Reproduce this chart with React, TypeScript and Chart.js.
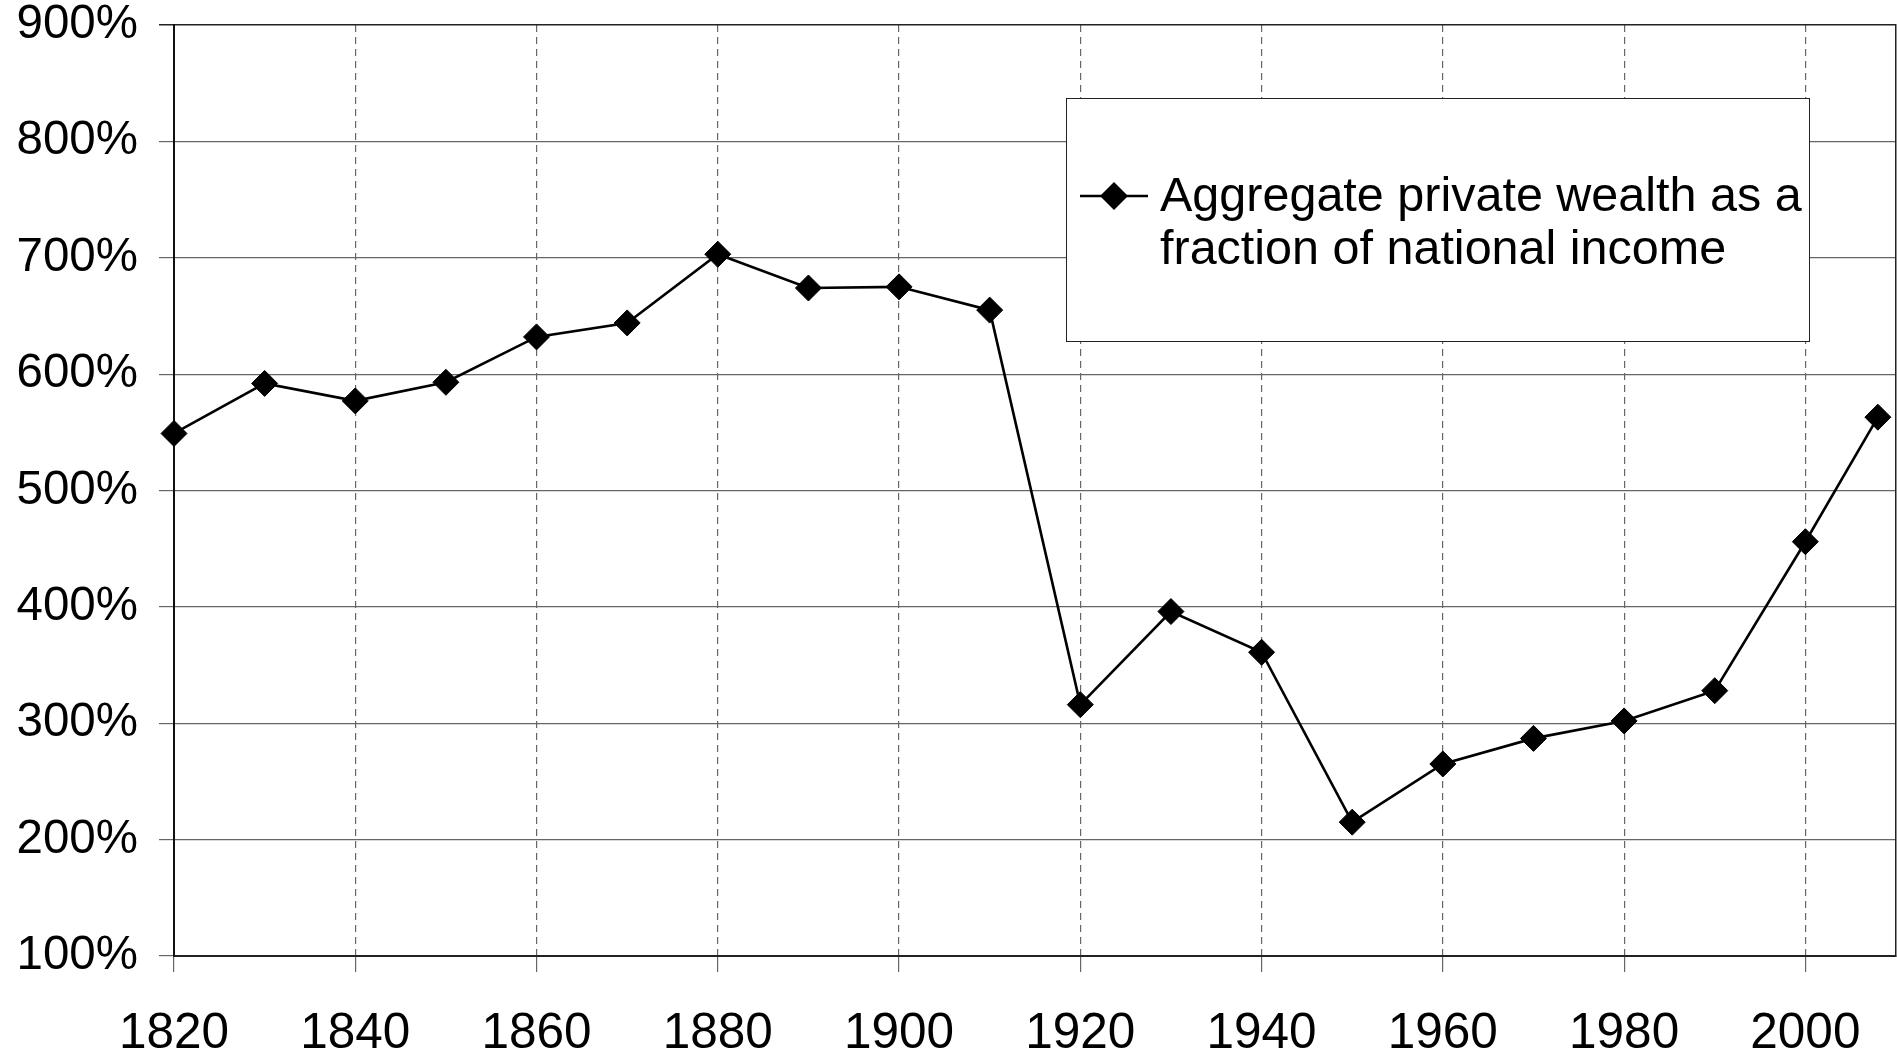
import React, { useEffect, useRef } from "react";
import { Chart, registerables } from "chart.js";

Chart.register(...registerables);

const years = [1820, 1830, 1840, 1850, 1860, 1870, 1880, 1890, 1900, 1910, 1920, 1930, 1940, 1950, 1960, 1970, 1980, 1990, 2000, 2008];
const wealthRatio = [549, 592, 577, 593, 632, 644, 703, 674, 675, 655, 316, 396, 361, 215, 265, 287, 302, 328, 456, 563];
const seriesLabelLines = ["Aggregate private wealth as a", "fraction of national income"];
const xMin = 1820;
const xMax = 2010;
const xStep = 20;
const yMin = 100;
const yMax = 900;
const yStep = 100;

const FONT = "'Liberation Sans', Arial, Helvetica, sans-serif";

export default function App() {
  const canvasRef = useRef<HTMLCanvasElement | null>(null);

  useEffect(() => {
    const canvas = canvasRef.current;
    if (!canvas) return;
    const chart = new Chart(canvas, {
      type: "line",
      data: {
        datasets: [
          {
            label: seriesLabelLines.join(" "),
            data: years.map((x, i) => ({ x, y: wealthRatio[i] })),
            borderColor: "#000",
            borderWidth: 2.6,
            backgroundColor: "#000",
            pointStyle: "rectRot",
            pointRadius: 13,
            pointBorderWidth: 1,
            pointBorderColor: "#000",
            pointBackgroundColor: "#000",
            tension: 0,
            clip: false,
          },
        ],
      },
      options: {
        responsive: false,
        animation: false,
        maintainAspectRatio: false,
        layout: { autoPadding: false, padding: { top: 25, right: 1, left: 0, bottom: 0 } },
        plugins: {
          legend: { display: false },
          tooltip: { enabled: false },
        },
        scales: {
          x: {
            type: "linear",
            min: xMin,
            max: xMax,
            afterFit: (scale: any) => {
              scale.height = 103;
              scale.paddingLeft = 0;
              scale.paddingRight = 0;
            },
            ticks: {
              stepSize: xStep,
              includeBounds: false,
              autoSkip: false,
              maxRotation: 0,
              padding: 33,
              color: "#000",
              font: { family: FONT, size: 49.5 },
              callback: (v: any) => String(v),
            },
            grid: {
              color: "#666",
              lineWidth: 1.2,
              tickLength: 16,
              tickColor: "#666",
              tickBorderDash: [],
            },
            border: {
              display: true,
              color: "#222",
              width: 2,
              dash: [7, 5],
            },
          },
          y: {
            type: "linear",
            min: yMin,
            max: yMax,
            afterFit: (scale: any) => {
              scale.width = 174;
              scale.paddingTop = 0;
              scale.paddingBottom = 0;
            },
            ticks: {
              stepSize: yStep,
              padding: 21,
              color: "#000",
              font: { family: FONT, size: 47.5 },
              callback: (v: any) => `${v}%`,
            },
            grid: {
              color: (ctx: any) => (ctx.tick && ctx.tick.value === yMax ? "#222" : "#666"),
              lineWidth: (ctx: any) => (ctx.tick && ctx.tick.value === yMax ? 1.5 : 1.2),
              tickLength: 15,
            },
            border: { display: true, color: "#111", width: 2 },
          },
          yRight: {
            type: "linear",
            position: "right",
            min: yMin,
            max: yMax,
            afterFit: (scale: any) => {
              scale.width = 0;
              scale.paddingTop = 0;
              scale.paddingBottom = 0;
            },
            ticks: { display: false },
            grid: { display: false, drawTicks: false },
            border: { display: true, color: "#222", width: 1.5 },
          },
        },
      },
    });
    return () => chart.destroy();
  }, []);

  return (
    <div style={{ position: "fixed", left: 0, top: 0, width: 1897, height: 1059, background: "#fff" }}>
      <canvas ref={canvasRef} width={1897} height={1059} style={{ display: "block" }} />
      <div
        style={{
          position: "absolute",
          left: 1066,
          top: 98,
          width: 744,
          height: 244,
          boxSizing: "border-box",
          border: "1.5px solid #222",
          background: "#fff",
        }}
      >
        <svg
          width={70}
          height={30}
          style={{ position: "absolute", left: 13, top: 82 }}
        >
          <line x1={0} y1={15} x2={68} y2={15} stroke="#000" strokeWidth={2.6} />
          <polygon points="34,1 48,15 34,29 20,15" fill="#000" />
        </svg>
        <div
          style={{
            position: "absolute",
            left: 93,
            top: 69,
            fontFamily: FONT,
            fontSize: 48.5,
            lineHeight: "53px",
            color: "#000",
            whiteSpace: "nowrap",
          }}
        >
          {seriesLabelLines.map((t) => (
            <div key={t}>{t}</div>
          ))}
        </div>
      </div>
    </div>
  );
}
